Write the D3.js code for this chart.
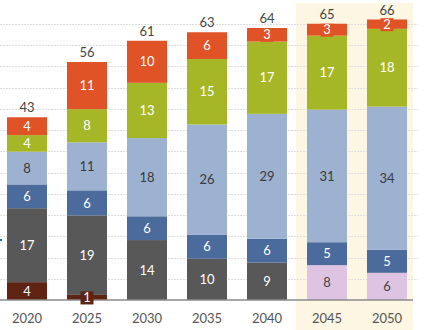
<!DOCTYPE html>
<html>
<head>
<meta charset="utf-8">
<script src="https://cdn.jsdelivr.net/npm/d3@7"></script>
<style>
  body { margin: 0; background: #fff; }
  svg { display: block; font-family: Lato, 'Open Sans', sans-serif; }
</style>
</head>
<body>
<div class="chart"></div>
<script>
// years on the x axis
const years = ['2020', '2025', '2030', '2035', '2040', '2045', '2050'];

// stacked series, bottom to top
const brown = [4.2, 1.2, 0, 0, 0, 0, 0];
const darkGray = [17.4, 18.7, 14.1, 9.7, 8.8, 0, 0];
const pink = [0, 0, 0, 0, 0, 8.2, 6.4];
const steelBlue = [5.6, 5.9, 5.6, 5.7, 5.6, 5.4, 5.4];
const lightBlue = [7.7, 11.3, 18.4, 25.9, 29.4, 31.2, 33.7];
const green = [3.9, 7.8, 13.0, 15.4, 17.0, 17.4, 18.3];
const orange = [4.2, 11.1, 9.9, 6.3, 3.2, 2.8, 2.2];

// highlighted years (cream band)
const highlighted = ['2045', '2050'];

const keys = ['brown', 'darkGray', 'pink', 'steelBlue', 'lightBlue', 'green', 'orange'];
const seriesData = { brown, darkGray, pink, steelBlue, lightBlue, green, orange };
const colors = {
  brown: '#5e2312',
  darkGray: '#585858',
  pink: '#dec4e2',
  steelBlue: '#4a6b9c',
  lightBlue: '#9db1d0',
  green: '#a5b726',
  orange: '#e05326',
};
const labelColors = {
  brown: '#fff',
  darkGray: '#fff',
  pink: '#444',
  steelBlue: '#fff',
  lightBlue: '#3a3a3a',
  green: '#fff',
  orange: '#fff',
};

const rows = years.map((year, i) => {
  const row = { year };
  keys.forEach((k) => { row[k] = seriesData[k][i]; });
  return row;
});

const width = 424, height = 330;
const svg = d3.select('.chart').append('svg')
  .attr('width', width)
  .attr('height', height);

const x = d3.scaleBand()
  .domain(years)
  .range([-3, 417])
  .paddingInner(1 / 3)
  .paddingOuter(1 / 6);

const y = d3.scaleLinear()
  .domain([0, 70])
  .range([300, 300 - 70 * 4.25]);

// cream band behind the highlighted years
const gap = (x.step() - x.bandwidth()) / 2;
const bandLeft = x(highlighted[0]) - gap - 1;
const bandRight = x(highlighted[highlighted.length - 1]) + x.bandwidth() + gap - 4;
svg.append('rect')
  .attr('x', bandLeft)
  .attr('y', 3)
  .attr('width', bandRight - bandLeft)
  .attr('height', height - 3)
  .attr('fill', '#fdf6e2');

// gridlines every 5
svg.append('g')
  .selectAll('line')
  .data(d3.range(5, 70, 5))
  .enter()
  .append('line')
  .attr('x1', 0)
  .attr('x2', 418)
  .attr('y1', (d) => Math.round(y(d)) + 0.5)
  .attr('y2', (d) => Math.round(y(d)) + 0.5)
  .attr('stroke', '#dedede')
  .attr('stroke-width', 1)
  .attr('stroke-dasharray', '2,1');

const stack = d3.stack().keys(keys);
const stacked = stack(rows);

const layers = svg.selectAll('.layer')
  .data(stacked)
  .enter()
  .append('g')
  .attr('class', 'layer')
  .attr('fill', (d) => colors[d.key]);

layers.selectAll('rect')
  .data((d) => d.filter((p) => p[1] - p[0] > 0))
  .enter()
  .append('rect')
  .attr('x', (d) => x(d.data.year))
  .attr('y', (d) => y(d[1]))
  .attr('width', x.bandwidth())
  .attr('height', (d) => y(d[0]) - y(d[1]));

// axis line
svg.append('line')
  .attr('x1', 0)
  .attr('x2', 413)
  .attr('y1', 300)
  .attr('y2', 300)
  .attr('stroke', '#8a8a8a')
  .attr('stroke-width', 1.5);

// segment labels
stacked.forEach((layer) => {
  layer.forEach((d) => {
    const v = d[1] - d[0];
    if (v <= 0) return;
    const cx = x(d.data.year) + x.bandwidth() / 2;
    const cy = (y(d[0]) + y(d[1])) / 2;
    const px = y(d[0]) - y(d[1]);
    if (px < 14) {
      // small segment: label gets its own box in the segment colour
      svg.append('rect')
        .attr('x', cx - 6.5)
        .attr('y', cy - 6)
        .attr('width', 13)
        .attr('height', 13)
        .attr('fill', colors[layer.key]);
    }
    svg.append('text')
      .attr('x', cx)
      .attr('y', cy)
      .attr('dy', '0.36em')
      .attr('text-anchor', 'middle')
      .attr('font-size', 13)
      .attr('fill', labelColors[layer.key])
      .text(Math.round(v));
  });
});

// totals on top
rows.forEach((r) => {
  const total = d3.sum(keys, (k) => r[k]);
  svg.append('text')
    .attr('x', x(r.year) + x.bandwidth() / 2)
    .attr('y', y(total) - 5)
    .attr('text-anchor', 'middle')
    .attr('font-size', 13)
    .attr('fill', '#444')
    .text(Math.round(total));
});

// year labels
svg.append('g')
  .selectAll('text')
  .data(years)
  .enter()
  .append('text')
  .attr('x', (d) => x(d) + x.bandwidth() / 2)
  .attr('y', 323)
  .attr('text-anchor', 'middle')
  .attr('font-size', 13)
  .attr('fill', '#555')
  .text((d) => d);

// stray blue mark at the left edge
svg.append('rect')
  .attr('x', 0)
  .attr('y', 239)
  .attr('width', 2)
  .attr('height', 2)
  .attr('fill', '#2f6db5');
</script>
</body>
</html>
